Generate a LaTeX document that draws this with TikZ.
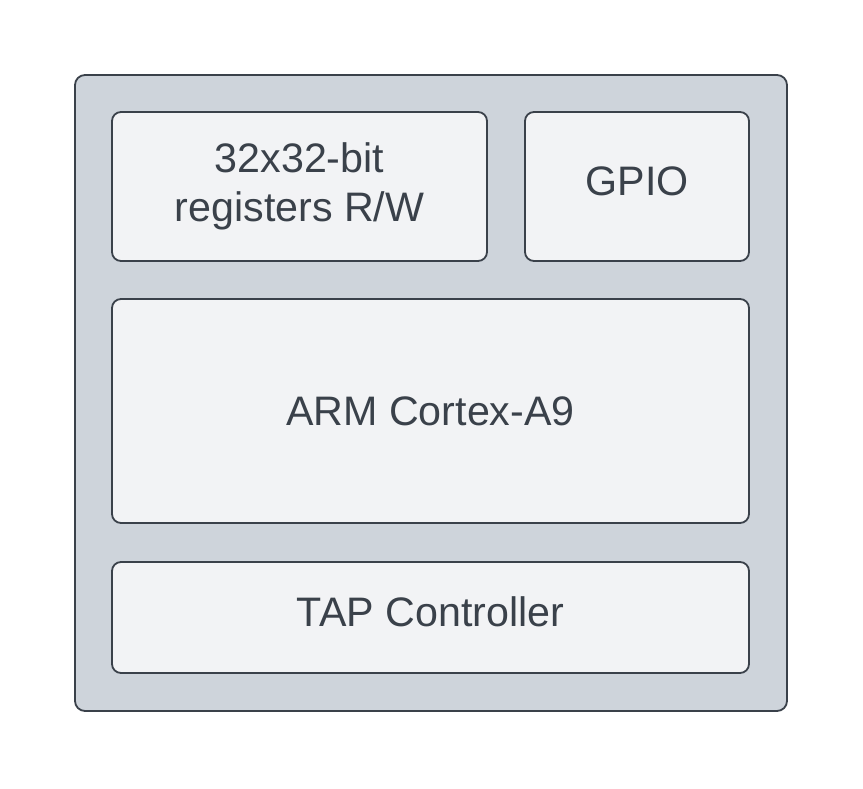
\documentclass[tikz,border=0pt]{standalone}
\usepackage{fontspec}
\setmainfont{Liberation Sans}
\definecolor{outerfill}{HTML}{CED4DB}
\definecolor{innerfill}{HTML}{F2F3F5}
\definecolor{strokec}{HTML}{3A414A}
\begin{document}
\begin{tikzpicture}[x=1pt,y=-1pt,
  outerbox/.style={draw=strokec,fill=outerfill,line width=1.8pt,rounded corners=10pt},
  blockbox/.style={draw=strokec,fill=innerfill,line width=1.8pt,rounded corners=9pt},
  lbl/.style={text=strokec,font=\fontsize{41.2}{49}\selectfont,align=center}]
\useasboundingbox (0,0) rectangle (863,788);
\draw[outerbox] (75,75) rectangle (787,711);
\draw[blockbox] (112,112) rectangle (487,261);
\draw[blockbox] (525,112) rectangle (749,261);
\draw[blockbox] (112,299) rectangle (749,523);
\draw[blockbox] (112,562) rectangle (749,673);
\node[lbl] (regs) at (299.5,186.5) {32x32-bit\\registers R/W};
\node[lbl] (gpio) at (637,181) {GPIO};
\node[lbl] (arm) at (430.5,411) {ARM Cortex-A9};
\node[lbl] (tap) at (430.5,612) {TAP Controller};
\end{tikzpicture}
\end{document}
